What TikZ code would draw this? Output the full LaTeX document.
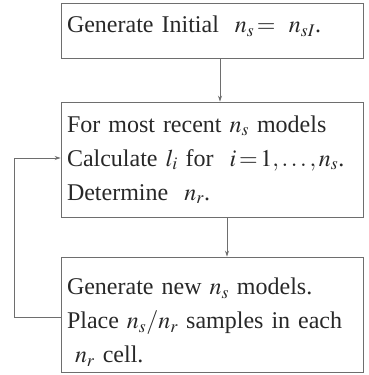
\documentclass[tikz,border=0pt]{standalone}
\usepackage{mathptmx}
\usepackage[no-math]{fontspec}
\setmainfont{Liberation Serif}
\usepackage{tikz}
\usetikzlibrary{arrows.meta,positioning,calc}
\definecolor{LineGray}{RGB}{110,110,110}
\definecolor{TextGray}{RGB}{40,40,40}

\begin{document}
\begin{tikzpicture}[x=1pt,y=-1pt,
  box/.style={draw=LineGray,line width=0.9pt,minimum width=302pt,
              text width=290pt,align=left,inner xsep=6pt,
              font=\fontsize{24}{34}\selectfont,text=TextGray},
  arr/.style={-{Stealth[length=6pt,width=4pt]},line width=0.8pt,LineGray},
]
\useasboundingbox (0,0) rectangle (369,375);
\node[box,minimum height=55pt,text depth=12pt] (init) at (212,30.5)
  {Generate Initial \ $n_s\!=\ n_{sI}$.};
\node[box,minimum height=115pt] (calc) at (212,159.5)
  {For most recent $n_s$ models\\
   Calculate $l_i$ for \ $i\!=\!1,\ldots,n_s$.\\
   Determine \ $n_r$.};
\node[box,minimum height=115pt,text height=32pt] (gen) at (212,314.5)
  {Generate new $n_s$ models.\\
   Place $n_s/n_r$ samples in each\\
   \ $n_r$ cell.};
\draw[arr] ([xshift=8pt]init.south) -- ([xshift=8pt]calc.north);
\draw[arr] ([xshift=15pt]calc.south) -- ([xshift=15pt]gen.north);
\draw[arr] ([yshift=-3pt]gen.west) -- ++(-46,0) |- ([yshift=1.5pt]calc.west);
\end{tikzpicture}
\end{document}
